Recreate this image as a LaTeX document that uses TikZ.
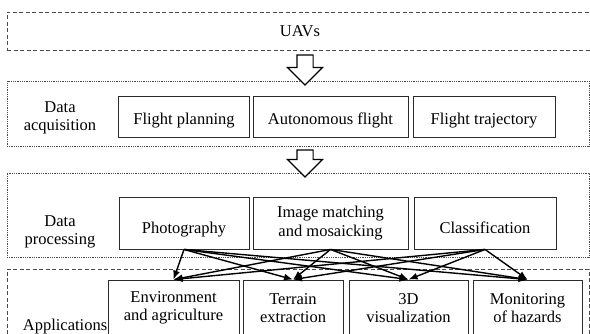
\documentclass[tikz,border=0pt]{standalone}
\usepackage{fontspec}
\setmainfont{Liberation Serif}
\usetikzlibrary{arrows.meta,shapes.arrows}
\definecolor{edge}{HTML}{2B2B2B}
\definecolor{frame}{HTML}{4A4A4A}

\tikzset{
  layerdash/.style={draw=frame, line width=0.9pt, dash pattern=on 4pt off 2.5pt, inner sep=0pt},
  layerdot/.style={draw=frame, line width=0.8pt, densely dotted, inner sep=0pt},
  stagebox/.style={draw=edge, line width=0.9pt, align=center, inner sep=0pt},
  lowtext/.style={text height=#1, text depth=0pt},
  flow/.style={-{Latex[length=9pt,width=7pt]}, line width=1.4pt},
  downarrow/.style={draw=black, line width=1.1pt, fill=white, single arrow,
    shape border rotate=270, inner sep=7.5pt, single arrow head extend=9.5pt,
    single arrow head indent=0pt, minimum height=#1}
}

\begin{document}
\begin{tikzpicture}[x=1pt,y=-1pt,font=\fontsize{16.5}{18.5}\selectfont]
\clip (0,0) rectangle (590,334);
\node[layerdash, minimum width=600pt, minimum height=38pt] (uav) at (307,31) {};
\node[inner sep=0pt] (uavtext) at (300,31) {UAVs};
\node[layerdot, minimum width=582pt, minimum height=65pt] (acq) at (298,113.5) {};
\node[layerdot, minimum width=582pt, minimum height=84pt] (proc) at (298,215) {};
\node[layerdash, minimum width=582pt, minimum height=81pt] (app) at (298,309.5) {};
\node[downarrow=30pt] (down1) at (305,66) {};
\node[downarrow=27pt] (down2) at (305,159.5) {};
\node[align=center, inner sep=0pt] (acqlabel) at (60,118) {Data\\acquisition};
\node[align=center, inner sep=0pt] (proclabel) at (60,232) {Data\\processing};
\node[inner sep=0pt] (applabel) at (65,327) {Applications};
\node[stagebox, lowtext=16pt, minimum width=131pt, minimum height=41pt] (plan) at (184,116.5) {Flight planning};
\node[stagebox, lowtext=16pt, minimum width=155pt, minimum height=41pt] (auto) at (330.5,116.5) {Autonomous flight};
\node[stagebox, lowtext=16pt, minimum width=142pt, minimum height=41pt] (traj) at (484,116.5) {Flight trajectory};
\node[stagebox, lowtext=22pt, minimum width=130pt, minimum height=52pt] (photo) at (184,223) {Photography};
\node[stagebox, minimum width=155pt, minimum height=52pt] (mosaic) at (330.5,223) {Image matching\\and mosaicking};
\node[stagebox, lowtext=22pt, minimum width=142pt, minimum height=52pt] (classify) at (485,223) {Classification};
\node[stagebox, minimum width=131pt, minimum height=56pt] (env) at (173.5,308) {Environment\\and agriculture};
\node[stagebox, minimum width=100pt, minimum height=56pt] (terrain) at (293,308) {Terrain\\extraction};
\node[stagebox, minimum width=119pt, minimum height=56pt] (vis) at (408.5,308) {3D\\visualization};
\node[stagebox, minimum width=109pt, minimum height=56pt] (hazard) at (527.5,308) {Monitoring\\of hazards};
\draw[flow] (photo.south) -- (env.north);
\draw[flow] (photo.south) -- (terrain.north);
\draw[flow] (photo.south) -- (vis.north);
\draw[flow] (photo.south) -- (hazard.north);
\draw[flow] (mosaic.south) -- (env.north);
\draw[flow] (mosaic.south) -- (terrain.north);
\draw[flow] (mosaic.south) -- (vis.north);
\draw[flow] (mosaic.south) -- (hazard.north);
\draw[flow] (classify.south) -- (env.north);
\draw[flow] (classify.south) -- (terrain.north);
\draw[flow] (classify.south) -- (vis.north);
\draw[flow] (classify.south) -- (hazard.north);
\end{tikzpicture}
\end{document}
